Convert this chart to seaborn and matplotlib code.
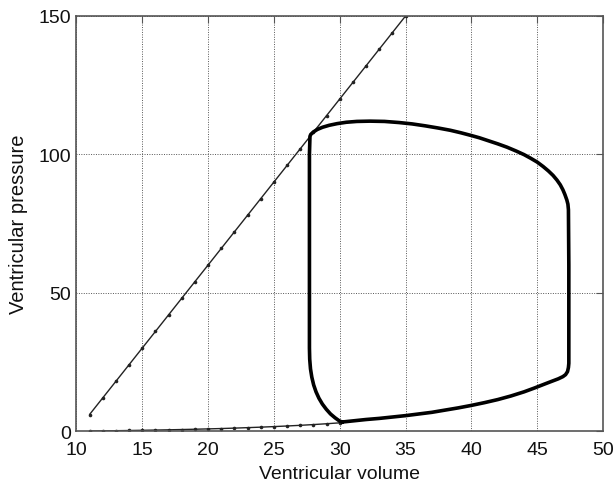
import matplotlib
matplotlib.use("Agg")
import matplotlib.pyplot as plt
import seaborn as sns
import pandas as pd

# End-systolic pressure-volume relation (straight line, one sample per ml)
espvr_volume = [11, 12, 13, 14, 15, 16, 17, 18, 19, 20, 21, 22, 23, 24, 25,
                26, 27, 28, 29, 30, 31, 32, 33, 34, 35]
espvr_pressure = [6, 12, 18, 24, 30, 36, 42, 48, 54, 60, 66, 72, 78, 84, 90,
                  96, 102, 108, 114, 120, 126, 132, 138, 144, 150]

# End-diastolic pressure-volume relation (exponential passive filling curve)
edpvr_volume = [11, 12, 13, 14, 15, 16, 17, 18, 19, 20, 21, 22, 23, 24, 25,
                26, 27, 28, 29, 30]
edpvr_pressure = [0.05, 0.10, 0.16, 0.23, 0.30, 0.39, 0.48, 0.58, 0.69, 0.81,
                  0.94, 1.09, 1.26, 1.44, 1.64, 1.86, 2.10, 2.37, 2.67, 3.00]

# One cardiac cycle: filling, isovolumic contraction, ejection, isovolumic relaxation
loop_volume = [
    # filling
    30.2, 31.0, 32.0, 33.0, 34.0, 35.0, 36.0, 37.0, 38.0, 39.0, 40.0, 41.0, 42.0,
    43.0, 44.0, 44.8, 45.5, 46.1, 46.6, 46.95, 47.15, 47.3, 47.37, 47.4,
    # isovolumic contraction
    47.4, 47.4, 47.37,
    # ejection
    47.33, 47.25, 47.1, 46.95, 46.75, 46.5, 46.2, 45.85, 45.45, 45.0, 44.5, 44.0,
    43.4, 42.7, 42.0, 41.3, 40.6, 40.0, 39.2, 38.4, 37.5, 36.5, 35.5, 34.5, 33.4,
    32.3, 31.3, 30.5, 29.8, 29.2, 28.7, 28.3, 28.0, 27.8, 27.74,
    # isovolumic relaxation
    27.7, 27.7, 27.7, 27.72, 27.78, 27.88, 28.02, 28.2, 28.42, 28.68, 28.98,
    29.3, 29.65, 30.0, 30.2,
]
loop_pressure = [
    3.3, 3.7, 4.2, 4.6, 5.1, 5.6, 6.2, 6.8, 7.6, 8.4, 9.3, 10.3, 11.4,
    12.7, 14.2, 15.6, 16.9, 18.0, 18.9, 19.7, 20.4, 21.5, 23.0, 24.5,
    40.0, 60.0, 80.0,
    82.0, 83.5, 85.5, 87.2, 89.0, 90.7, 92.4, 94.0, 95.6, 97.2, 98.6, 99.9,
    101.2, 102.6, 103.8, 104.9, 106.0, 106.8, 107.8, 108.7, 109.5, 110.3, 111.0,
    111.5, 111.9, 112.0, 111.9, 111.6, 111.1, 110.5, 109.8, 109.0, 108.1, 107.2,
    106.5,
    100.0, 60.0, 30.0, 26.0, 22.5, 19.5, 16.7, 14.2, 11.9, 9.8, 7.9,
    6.2, 4.8, 3.6, 3.3,
]

x_ticks = [10, 15, 20, 25, 30, 35, 40, 45, 50]
y_ticks = [0, 50, 100, 150]

sns.set_style("white")
plt.rcParams["font.family"] = ["Liberation Sans", "DejaVu Sans"]

fig = plt.figure(figsize=(6.16, 4.85), dpi=100)
ax = fig.add_axes([0.124, 0.109, 0.855, 0.856])

espvr = pd.DataFrame({"volume": espvr_volume, "pressure": espvr_pressure})
edpvr = pd.DataFrame({"volume": edpvr_volume, "pressure": edpvr_pressure})
loop = pd.DataFrame({"volume": loop_volume, "pressure": loop_pressure})

sns.lineplot(data=espvr, x="volume", y="pressure", ax=ax, sort=False,
             color="#222222", linewidth=1.0, marker="o", markersize=2.6,
             markeredgewidth=0, estimator=None)
sns.lineplot(data=edpvr, x="volume", y="pressure", ax=ax, sort=False,
             color="#222222", linewidth=1.0, marker="o", markersize=2.6,
             markeredgewidth=0, estimator=None)
sns.lineplot(data=loop, x="volume", y="pressure", ax=ax, sort=False,
             color="black", linewidth=2.6, estimator=None)

ax.set_xlim(10, 50)
ax.set_ylim(0, 150)
ax.set_xticks(x_ticks)
ax.set_yticks(y_ticks)
ax.grid(True, linestyle=(0, (1, 1.5)), color="#555555", linewidth=0.7)
ax.set_axisbelow(True)

for side in ax.spines.values():
    side.set_color("#555555")
    side.set_linewidth(1.2)

ax.tick_params(direction="in", length=5, width=0.8, color="#555555",
               top=True, right=True, labelsize=14, labelcolor="#111111")
ax.tick_params(axis="x", pad=7)
ax.tick_params(axis="y", pad=4)

ax.set_xlabel("Ventricular volume", fontsize=14, color="#111111", labelpad=5)
ax.set_ylabel("Ventricular pressure", fontsize=14.5, color="#111111", labelpad=7)

fig.savefig("out.png", dpi=100)
